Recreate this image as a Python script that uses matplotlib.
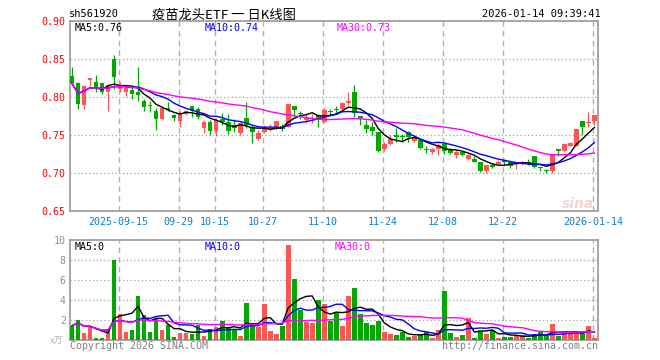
import matplotlib
matplotlib.use("Agg")
import matplotlib.pyplot as plt
import numpy as np
import pandas as pd

# daily K-line data (price in yuan, volume in 10k lots)
opens = [0.828, 0.818, 0.789, 0.823, 0.820, 0.819, 0.807, 0.850, 0.810, 0.807,
         0.809, 0.807, 0.795, 0.789, 0.781, 0.771, 0.786, 0.776, 0.768, 0.777,
         0.788, 0.784, 0.759, 0.767, 0.755, 0.771, 0.767, 0.763, 0.752, 0.773,
         0.761, 0.745, 0.754, 0.757, 0.759, 0.762, 0.761, 0.788, 0.778, 0.770,
         0.771, 0.776, 0.767, 0.781, 0.784, 0.784, 0.792, 0.806, 0.775, 0.763,
         0.760, 0.754, 0.732, 0.738, 0.749, 0.748, 0.754, 0.742, 0.743, 0.731,
         0.728, 0.732, 0.738, 0.730, 0.724, 0.727, 0.718, 0.719, 0.714, 0.702,
         0.711, 0.712, 0.716, 0.714, 0.712, 0.713, 0.715, 0.722, 0.707, 0.704,
         0.702, 0.732, 0.729, 0.736, 0.736, 0.769, 0.766, 0.768]
closes = [0.818, 0.791, 0.815, 0.824, 0.812, 0.807, 0.816, 0.826, 0.814, 0.812,
          0.804, 0.802, 0.787, 0.788, 0.771, 0.785, 0.783, 0.772, 0.777, 0.782,
          0.782, 0.774, 0.767, 0.755, 0.770, 0.767, 0.755, 0.759, 0.766, 0.763,
          0.754, 0.753, 0.759, 0.759, 0.768, 0.758, 0.791, 0.783, 0.777, 0.774,
          0.772, 0.770, 0.783, 0.780, 0.783, 0.792, 0.795, 0.779, 0.772, 0.758,
          0.755, 0.729, 0.738, 0.745, 0.748, 0.747, 0.748, 0.746, 0.733, 0.730,
          0.732, 0.737, 0.729, 0.726, 0.728, 0.724, 0.724, 0.715, 0.702, 0.711,
          0.708, 0.715, 0.715, 0.709, 0.714, 0.715, 0.713, 0.708, 0.706, 0.702,
          0.725, 0.729, 0.738, 0.739, 0.758, 0.760, 0.767, 0.776]
highs = [0.839, 0.820, 0.816, 0.825, 0.829, 0.819, 0.817, 0.855, 0.820, 0.816,
         0.812, 0.839, 0.798, 0.795, 0.785, 0.785, 0.794, 0.777, 0.781, 0.783,
         0.788, 0.787, 0.770, 0.770, 0.772, 0.779, 0.777, 0.771, 0.767, 0.793,
         0.763, 0.757, 0.763, 0.764, 0.769, 0.764, 0.791, 0.788, 0.781, 0.779,
         0.777, 0.777, 0.785, 0.784, 0.788, 0.794, 0.806, 0.816, 0.775, 0.770,
         0.767, 0.754, 0.741, 0.750, 0.759, 0.751, 0.755, 0.750, 0.745, 0.735,
         0.733, 0.739, 0.740, 0.733, 0.730, 0.728, 0.725, 0.722, 0.715, 0.711,
         0.713, 0.717, 0.717, 0.715, 0.715, 0.716, 0.718, 0.723, 0.708, 0.705,
         0.725, 0.732, 0.739, 0.741, 0.758, 0.769, 0.780, 0.776]
lows = [0.816, 0.784, 0.784, 0.814, 0.807, 0.804, 0.782, 0.810, 0.807, 0.801,
        0.798, 0.795, 0.782, 0.780, 0.756, 0.770, 0.781, 0.769, 0.761, 0.776,
        0.774, 0.771, 0.752, 0.750, 0.749, 0.763, 0.751, 0.754, 0.750, 0.759,
        0.740, 0.744, 0.752, 0.755, 0.758, 0.755, 0.760, 0.774, 0.771, 0.766,
        0.766, 0.760, 0.766, 0.775, 0.777, 0.783, 0.789, 0.774, 0.763, 0.752,
        0.750, 0.727, 0.729, 0.737, 0.741, 0.741, 0.741, 0.741, 0.732, 0.726,
        0.725, 0.724, 0.725, 0.725, 0.720, 0.722, 0.717, 0.714, 0.701, 0.700,
        0.707, 0.710, 0.711, 0.707, 0.705, 0.711, 0.711, 0.707, 0.702, 0.700,
        0.700, 0.722, 0.728, 0.735, 0.735, 0.750, 0.760, 0.763]
volumes = [1.43, 2.0, 0.73, 1.33, 0.23, 0.23, 1.0, 8.0, 2.6, 0.83,
           1.0, 4.4, 2.5, 0.83, 2.07, 1.0, 1.5, 0.33, 0.73, 0.73,
           0.63, 1.5, 0.43, 1.07, 1.33, 1.93, 1.33, 1.0, 0.43, 3.73,
           1.67, 1.33, 3.6, 0.9, 0.6, 1.43, 9.5, 6.1, 3.0, 1.77,
           1.67, 4.0, 3.6, 1.9, 2.77, 1.43, 4.4, 5.23, 2.6, 1.73,
           1.5, 1.93, 0.83, 0.57, 0.5, 0.83, 0.33, 0.4, 0.5, 0.83,
           0.23, 1.0, 4.93, 0.73, 0.33, 0.5, 2.23, 0.23, 1.0, 0.6,
           1.0, 0.23, 0.33, 0.33, 0.5, 0.5, 0.23, 0.5, 0.83, 0.5,
           1.6, 0.43, 0.73, 0.73, 0.73, 0.9, 1.43, 0.23]

date_pos = [8, 18, 24, 32, 42, 52, 62, 72, 87]
date_labels = ["2025-09-15", "09-29", "10-15", "10-27", "11-10",
               "11-24", "12-08", "12-22", "2026-01-14"]
price_ticks = [0.65, 0.70, 0.75, 0.80, 0.85, 0.90]
vol_ticks = [2, 4, 6, 8, 10]
ma_windows = [5, 10, 30]
ma_colors = ["black", "blue", "magenta"]
price_ma_text = ["MA5:0.76", "MA10:0.74", "MA30:0.73"]
vol_ma_text = ["MA5:0", "MA10:0", "MA30:0"]

RED = "#ff5555"
GREEN = "#00a800"
MONO = "DejaVu Sans Mono"
FS = 7.2

o = np.array(opens)
c = np.array(closes)
x = np.arange(len(c))
cols = np.where(c >= o, RED, GREEN)

W, H = 660, 360
fig = plt.figure(figsize=(6.6, 3.6), dpi=100)
ax = fig.add_axes([70 / W, 149 / H, 528 / W, 190 / H])
axv = fig.add_axes([70 / W, 20 / H, 528 / W, 100 / H])


def px(xp, yp):
    return xp / W, 1 - yp / H


# candles
ax.vlines(x, lows, highs, colors=cols, lw=0.9, zorder=3)
body = np.maximum(np.abs(c - o), 0.0015)
ax.bar(x, body, bottom=np.minimum(o, c), width=0.8, color=cols, zorder=3)
for n, col in zip(ma_windows, ma_colors):
    ma = pd.Series(c).rolling(n, min_periods=1).mean()
    ax.plot(x, ma, color=col, lw=1.0, zorder=4)

# volume
axv.bar(x, volumes, width=0.8, color=cols, zorder=3)
for n, col in zip(ma_windows, ma_colors):
    ma = pd.Series(volumes).rolling(n, min_periods=1).mean()
    axv.plot(x, ma, color=col, lw=1.0, zorder=4)

for a in (ax, axv):
    a.set_xlim(-0.33, 87.6)
    for s in a.spines.values():
        s.set_color("#a0a0a0")
        s.set_linewidth(1.3)
    for p in date_pos:
        a.axvline(p - 0.25, color="#b0b0b0", lw=1, ls=(0, (4, 3)), zorder=1)
    a.tick_params(length=0)

ax.set_ylim(0.65, 0.90)
ax.set_yticks(price_ticks)
ax.set_yticklabels(["%.2f" % t for t in price_ticks], color="red",
                   fontfamily=MONO, fontsize=FS)
ax.tick_params(axis="y", pad=3)
for t in price_ticks[1:-1]:
    ax.axhline(t, color="#a0a0a0", lw=0.9, ls=(0, (1, 2)), zorder=1)
ax.set_xticks(np.array(date_pos) - 0.25)
ax.set_xticklabels(date_labels, color="#0c7fd8", fontfamily=MONO, fontsize=FS)
ax.tick_params(axis="x", pad=4)

axv.set_ylim(0, 10)
axv.set_yticks(vol_ticks)
axv.set_yticklabels([str(t) for t in vol_ticks], color="#909090",
                    fontfamily=MONO, fontsize=FS)
axv.tick_params(axis="y", pad=3)
axv.set_xticks([])
for t in vol_ticks[:-1]:
    axv.axhline(t, color="#a0a0a0", lw=0.9, ls=(0, (1, 2)), zorder=1)

# header texts
fig.text(*px(69, 14), "sh561920", fontfamily=MONO, fontsize=FS + 0.3, va="center")
fig.text(*px(224, 15), "疫苗龙头ETF 一 日K线图", fontfamily=["Noto Sans CJK SC", "DejaVu Sans"],
         fontsize=9.5, ha="center", va="center")
fig.text(*px(601, 14), "2026-01-14 09:39:41", fontfamily=MONO, fontsize=FS + 0.3,
         ha="right", va="center")

for xp, txt, col in zip([75, 205, 337], price_ma_text, ma_colors):
    fig.text(*px(xp, 28), txt, fontfamily=MONO, fontsize=FS, color=col, va="center")
for xp, txt, col in zip([75, 205, 335], vol_ma_text, ma_colors):
    fig.text(*px(xp, 247), txt, fontfamily=MONO, fontsize=FS, color=col, va="center")

fig.text(*px(578, 204), "sina", fontsize=10, style="italic", fontweight="bold",
         color="#f2d4d4", ha="center", va="center")
fig.text(*px(57, 341), "x万", fontfamily=["Noto Sans CJK SC", "DejaVu Sans"],
         fontsize=6.5, color="#b0b0b0", ha="center", va="center")
fig.text(*px(70, 346), "Copyright 2026 SINA.COM", fontfamily=MONO, fontsize=FS,
         color="#808080", va="center")
fig.text(*px(598, 346), "http://finance.sina.com.cn", fontfamily=MONO, fontsize=FS,
         color="#808080", ha="right", va="center")

fig.savefig("out.png", dpi=100)
